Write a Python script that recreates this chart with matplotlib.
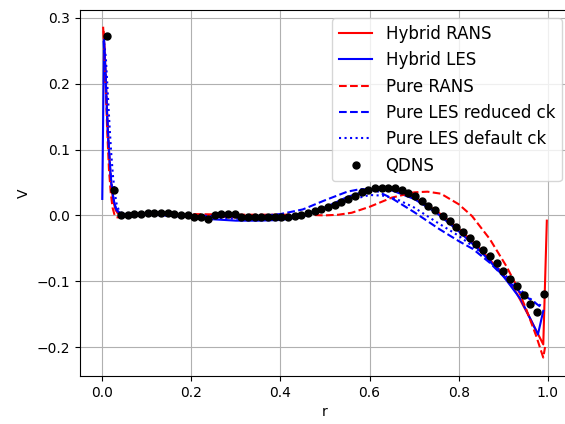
import numpy as np
import matplotlib
matplotlib.use("Agg")
import matplotlib.pyplot as plt

# QDNS reference points
r_qdns = [0.010, 0.027, 0.042, 0.057, 0.072, 0.087, 0.102, 0.117, 0.132, 0.147,
          0.162, 0.177, 0.192, 0.207, 0.222, 0.237, 0.252, 0.267, 0.282, 0.297,
          0.312, 0.327, 0.342, 0.357, 0.372, 0.387, 0.402, 0.417, 0.432, 0.447,
          0.462, 0.477, 0.492, 0.507, 0.522, 0.537, 0.552, 0.567, 0.582, 0.597,
          0.612, 0.627, 0.642, 0.657, 0.672, 0.687, 0.702, 0.717, 0.732, 0.748,
          0.765, 0.780, 0.795, 0.810, 0.825, 0.840, 0.855, 0.870, 0.885, 0.900,
          0.915, 0.931, 0.946, 0.961, 0.976, 0.991]
v_qdns = [0.273, 0.039, 0.001, 0.000, 0.002, 0.002, 0.003, 0.004, 0.003, 0.003,
          0.002, 0.001, 0.000, -0.002, -0.003, -0.006, 0.000, 0.002, 0.002, 0.002,
          -0.003, -0.003, -0.003, -0.002, -0.003, -0.002, -0.002, -0.002, -0.001, 0.000,
          0.003, 0.006, 0.009, 0.012, 0.016, 0.020, 0.025, 0.030, 0.035, 0.039,
          0.041, 0.042, 0.042, 0.041, 0.038, 0.034, 0.029, 0.022, 0.015, 0.008,
          -0.001, -0.008, -0.018, -0.026, -0.035, -0.044, -0.053, -0.062, -0.073, -0.084,
          -0.097, -0.108, -0.121, -0.135, -0.147, -0.120]

# Hybrid RANS
r_hrans = [0.002, 0.006, 0.010, 0.014, 0.018, 0.022, 0.026, 0.030, 0.035, 0.040,
           0.05, 0.1, 0.15, 0.2, 0.25, 0.3, 0.35, 0.4, 0.45, 0.5,
           0.55, 0.6, 0.63, 0.66, 0.7, 0.75, 0.8, 0.85, 0.9, 0.93,
           0.96, 0.99, 0.998]
v_hrans = [0.285, 0.24, 0.17, 0.11, 0.065, 0.035, 0.018, 0.008, 0.003, 0.001,
           0.001, 0.002, 0.002, 0.000, -0.002, -0.003, -0.004, -0.003, 0.000, 0.010,
           0.025, 0.038, 0.041, 0.039, 0.027, 0.007, -0.020, -0.052, -0.090, -0.118,
           -0.156, -0.196, -0.008]

# Hybrid LES
r_hles = [0.0, 0.004, 0.008, 0.012, 0.016, 0.020, 0.025, 0.030, 0.035, 0.04,
          0.05, 0.1, 0.15, 0.2, 0.25, 0.3, 0.35, 0.4, 0.45, 0.5,
          0.55, 0.6, 0.62, 0.65, 0.7, 0.75, 0.8, 0.85, 0.9, 0.94,
          0.978, 0.99]
v_hles = [0.025, 0.272, 0.20, 0.13, 0.085, 0.05, 0.025, 0.012, 0.006, 0.004,
          0.002, 0.001, 0.000, -0.003, -0.006, -0.008, -0.008, -0.007, -0.002, 0.012,
          0.028, 0.039, 0.040, 0.038, 0.025, 0.004, -0.024, -0.055, -0.092, -0.128,
          -0.181, -0.145]

# Pure RANS
r_prans = [0.003, 0.007, 0.011, 0.015, 0.019, 0.023, 0.027, 0.031, 0.036, 0.045,
           0.06, 0.1, 0.2, 0.3, 0.4, 0.45, 0.5, 0.53, 0.56, 0.6,
           0.65, 0.7, 0.73, 0.76, 0.8, 0.83, 0.87, 0.907, 0.93, 0.952,
           0.974, 0.99, 0.994]
v_prans = [0.28, 0.21, 0.13, 0.07, 0.035, 0.012, 0.002, -0.003, -0.003, -0.001,
           0.001, 0.002, 0.002, 0.001, 0.001, 0.001, 0.000, 0.001, 0.004, 0.013,
           0.027, 0.035, 0.036, 0.033, 0.017, -0.001, -0.036, -0.077, -0.107, -0.143,
           -0.183, -0.216, -0.200]

# Pure LES reduced ck
r_les_red = [0.003, 0.007, 0.011, 0.015, 0.019, 0.023, 0.027, 0.032, 0.038, 0.05,
             0.1, 0.2, 0.3, 0.35, 0.4, 0.45, 0.5, 0.55, 0.58, 0.61,
             0.65, 0.7, 0.757, 0.8, 0.832, 0.87, 0.907, 0.94, 0.97, 0.986]
v_les_red = [0.265, 0.22, 0.15, 0.10, 0.06, 0.035, 0.018, 0.008, 0.004, 0.002,
             0.002, 0.000, -0.002, -0.001, 0.002, 0.009, 0.023, 0.036, 0.040, 0.039,
             0.026, 0.005, -0.021, -0.039, -0.051, -0.072, -0.097, -0.118, -0.132, -0.140]

# Pure LES default ck
r_les_def = [0.004, 0.008, 0.012, 0.016, 0.020, 0.024, 0.028, 0.032, 0.037, 0.045,
             0.06, 0.1, 0.2, 0.3, 0.35, 0.4, 0.45, 0.5, 0.55, 0.6,
             0.63, 0.66, 0.7, 0.75, 0.8, 0.85, 0.9, 0.94, 0.97, 0.988]
v_les_def = [0.262, 0.24, 0.19, 0.14, 0.095, 0.06, 0.035, 0.018, 0.008, 0.003,
             0.002, 0.001, -0.002, -0.005, -0.005, -0.004, 0.000, 0.010, 0.022, 0.031,
             0.030, 0.025, 0.012, -0.010, -0.031, -0.056, -0.088, -0.114, -0.132, -0.138]


def main():
    fig = plt.figure(figsize=(5.65, 4.24), dpi=100)
    # right spine sits just outside the saved picture
    ax = fig.add_axes([80/565, 48/424, 490/565, 366/424])

    ax.plot(r_hrans, v_hrans, 'r-', label="Hybrid RANS")
    ax.plot(r_hles, v_hles, 'b-', label="Hybrid LES")
    ax.plot(r_prans, v_prans, 'r--', label="Pure RANS")
    ax.plot(r_les_red, v_les_red, 'b--', label="Pure LES reduced ck")
    ax.plot(r_les_def, v_les_def, 'b:', label="Pure LES default ck")
    ax.plot(r_qdns, v_qdns, 'k.', markersize=10, label="QDNS")

    ax.set_xlim(-0.05, 1.05)
    ax.set_ylim(-0.244, 0.312)
    ax.set_xticks([0.0, 0.2, 0.4, 0.6, 0.8, 1.0])
    ax.set_yticks([-0.2, -0.1, 0.0, 0.1, 0.2, 0.3])
    ax.grid(True)
    ax.set_xlabel("r")
    ax.set_ylabel("V")
    ax.legend(loc="upper right", fontsize=12)

    fig.savefig("out.png", dpi=100)


if __name__ == "__main__":
    main()
